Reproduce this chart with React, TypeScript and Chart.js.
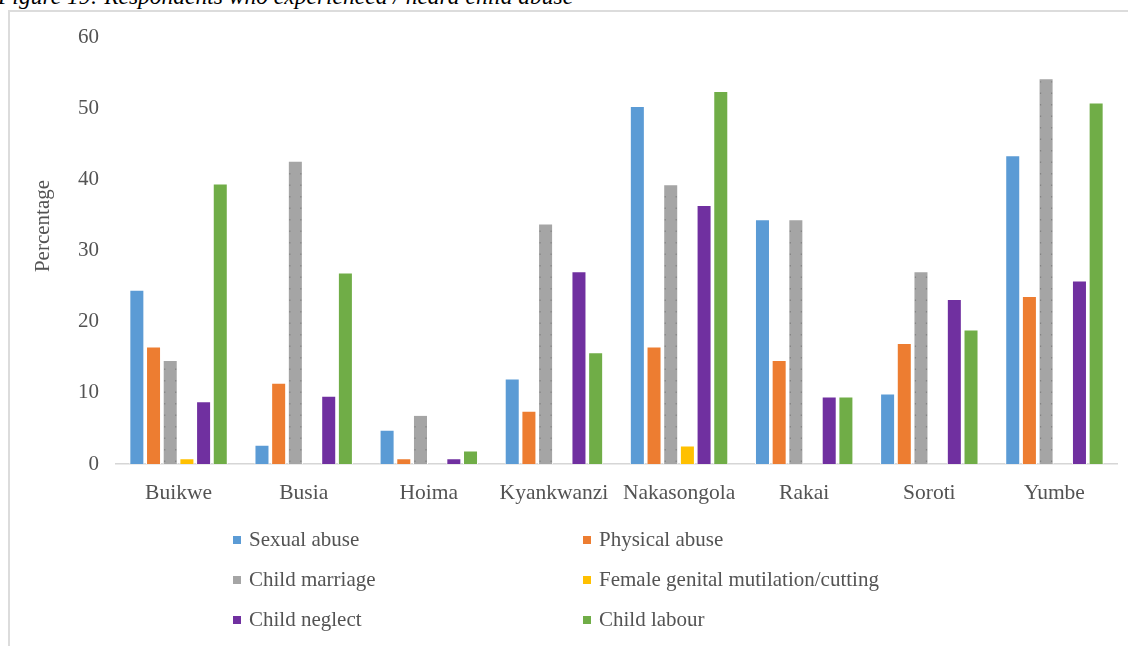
import React, { useEffect, useRef } from "react";
import { Chart, registerables } from "chart.js";

Chart.register(...registerables);

const figureTitle = "Figure 19: Respondents who experienced / heard child abuse";
const axisTitle = "Percentage";

const categories = ["Buikwe", "Busia", "Hoima", "Kyankwanzi", "Nakasongola", "Rakai", "Soroti", "Yumbe"];

const seriesNames = [
  "Sexual abuse",
  "Physical abuse",
  "Child marriage",
  "Female genital mutilation/cutting",
  "Child neglect",
  "Child labour",
];

const sexualAbuse = [24.5, 2.7, 4.8, 12.0, 50.3, 34.4, 9.9, 43.4];
const physicalAbuse = [16.5, 11.4, 0.8, 7.5, 16.5, 14.6, 17.0, 23.6];
const childMarriage = [14.6, 42.6, 6.9, 33.8, 39.3, 34.4, 27.1, 54.2];
const genitalMutilation = [0.8, 0, 0, 0, 2.6, 0, 0, 0];
const childNeglect = [8.8, 9.6, 0.8, 27.1, 36.4, 9.5, 23.2, 25.8];
const childLabour = [39.4, 26.9, 1.9, 15.7, 52.4, 9.5, 18.9, 50.8];

const seriesColors = ["#5B9BD5", "#ED7D31", "#A5A5A5", "#FFC000", "#7030A0", "#70AD47"];

const yMin = 0;
const yMax = 60;
const yStep = 10;

const FONT = "'Liberation Serif', 'DejaVu Serif', serif";
const TEXT_COLOR = "#535353";

// Two-column legend under the plot, plus the rotated axis title and the
// dotted edge pattern on the "Child marriage" bars.
const decorPlugin = {
  id: "decor",
  afterDatasetsDraw(chart: any) {
    const ctx = chart.ctx;
    const meta = chart.getDatasetMeta(2);
    ctx.save();
    ctx.strokeStyle = "rgba(105,105,105,0.55)";
    ctx.lineWidth = 1.2;
    ctx.setLineDash([1.5, 10]);
    meta.data.forEach((bar: any) => {
      const { x, y, base, width } = bar.getProps(["x", "y", "base", "width"], true);
      if (Math.abs(base - y) < 4) return;
      [x - width / 2 + 2, x + width / 2 - 2].forEach((lx) => {
        ctx.beginPath();
        ctx.moveTo(lx, base - 2);
        ctx.lineTo(lx, y + 3);
        ctx.stroke();
      });
    });
    ctx.restore();
  },
  afterDraw(chart: any) {
    const ctx = chart.ctx;
    ctx.save();
    // axis title
    ctx.translate(43, 226);
    ctx.rotate(-Math.PI / 2);
    ctx.font = `21px ${FONT}`;
    ctx.fillStyle = TEXT_COLOR;
    ctx.textAlign = "center";
    ctx.textBaseline = "middle";
    ctx.fillText(axisTitle, 0, 0);
    ctx.restore();

    // legend
    const colX = [233, 583];
    const rowY = [540, 580, 620];
    ctx.save();
    ctx.font = `21px ${FONT}`;
    ctx.textBaseline = "middle";
    ctx.textAlign = "left";
    chart.data.datasets.forEach((ds: any, i: number) => {
      const cx = colX[i % 2];
      const cy = rowY[Math.floor(i / 2)];
      ctx.fillStyle = ds.backgroundColor;
      ctx.fillRect(cx, cy - 4, 8, 8);
      ctx.fillStyle = TEXT_COLOR;
      ctx.fillText(ds.label, cx + 16, cy);
    });
    ctx.restore();
  },
};

export default function App() {
  const canvasRef = useRef<HTMLCanvasElement | null>(null);

  useEffect(() => {
    if (!canvasRef.current) return;
    const values = [sexualAbuse, physicalAbuse, childMarriage, genitalMutilation, childNeglect, childLabour];
    const chart = new Chart(canvasRef.current, {
      type: "bar",
      data: {
        labels: categories,
        datasets: seriesNames.map((name, i) => ({
          label: name,
          data: values[i],
          backgroundColor: seriesColors[i],
          borderColor: "#ffffff",
          borderWidth: 1,
          borderSkipped: "bottom",
          categoryPercentage: 0.8,
          barPercentage: 0.9,
        })),
      },
      options: {
        animation: false,
        responsive: false,
        devicePixelRatio: 1,
        layout: { padding: { left: 0, right: 11, top: 37, bottom: 0 } },
        plugins: {
          legend: { display: false },
          tooltip: { enabled: false },
          title: { display: false },
        },
        scales: {
          x: {
            grid: { display: false, drawTicks: false },
            border: { display: true, color: "#d6d6d6", width: 1.5 },
            ticks: {
              font: { family: FONT, size: 21.5 },
              color: TEXT_COLOR,
              padding: 16,
              maxRotation: 0,
              autoSkip: false,
            },
            afterFit: (s: any) => {
              s.height = 182;
            },
          },
          y: {
            min: yMin,
            max: yMax,
            grid: { display: false, drawTicks: false },
            border: { display: false },
            ticks: {
              stepSize: yStep,
              font: { family: FONT, size: 21 },
              color: TEXT_COLOR,
              padding: 17,
            },
            afterFit: (s: any) => {
              s.width = 116;
            },
          },
        },
      },
      plugins: [decorPlugin],
    });
    return () => chart.destroy();
  }, []);

  return (
    <div
      style={{
        position: "absolute",
        left: 0,
        top: 0,
        width: 1128,
        height: 646,
        overflow: "hidden",
        background: "#ffffff",
      }}
    >
      <div
        style={{
          position: "absolute",
          left: -2,
          top: -15,
          fontFamily: FONT,
          fontStyle: "italic",
          fontSize: 23.5,
          lineHeight: "23px",
          whiteSpace: "nowrap",
          color: "#000000",
        }}
      >
        {figureTitle}
      </div>
      <div
        style={{
          position: "absolute",
          left: 8,
          top: 10,
          width: 1200,
          height: 700,
          borderTop: "2px solid #dcdcdc",
          borderLeft: "2px solid #dcdcdc",
        }}
      />
      <canvas
        ref={canvasRef}
        width={1128}
        height={646}
        style={{ position: "absolute", left: 0, top: 0 }}
      />
    </div>
  );
}
